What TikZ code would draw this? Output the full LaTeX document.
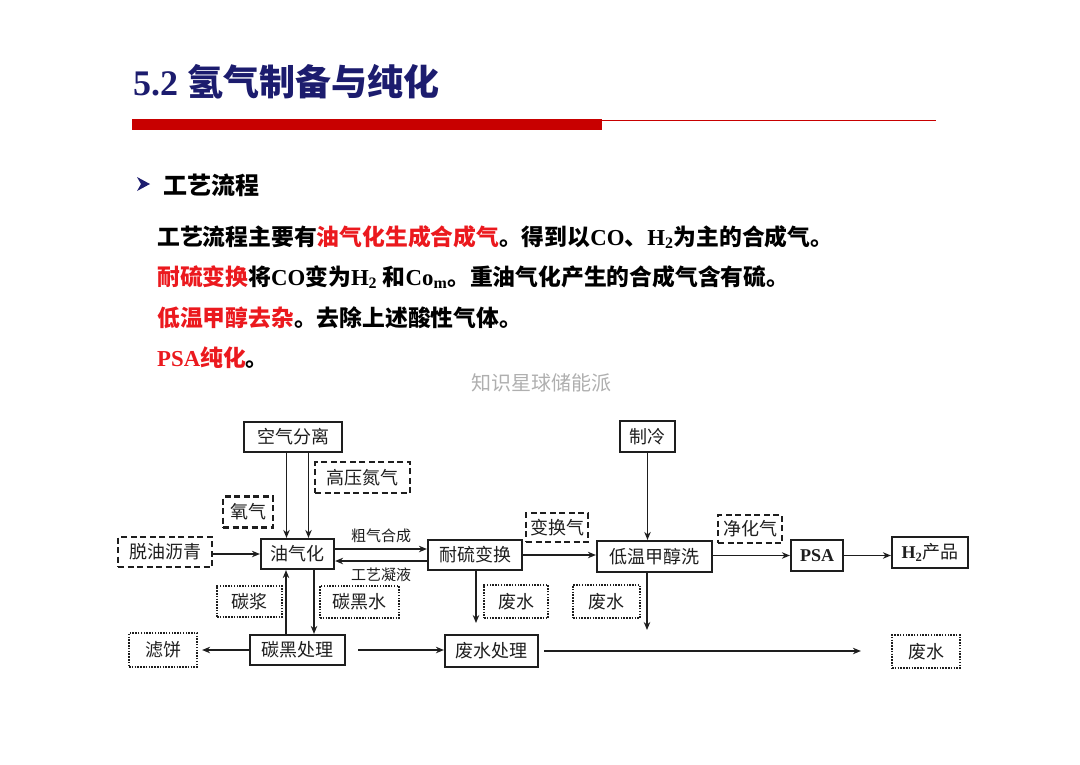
\documentclass[tikz,border=0pt]{standalone}
\usepackage{fontspec}
\setmainfont{Liberation Serif}
\newfontfamily\cjk{Noto Sans CJK SC}
\usetikzlibrary{arrows.meta,calc}
\definecolor{navy}{RGB}{28,28,110}
\definecolor{barred}{RGB}{200,0,0}
\definecolor{txtred}{RGB}{235,25,30}
\definecolor{ink}{RGB}{30,30,30}
\definecolor{wm}{RGB}{175,175,175}
\newcommand{\rd}[1]{\textcolor{txtred}{#1}}
\begin{document}
\begin{tikzpicture}[x=1pt,y=-1pt,
  box/.style={draw=ink, line width=2.2pt, inner sep=0pt, text=ink, font=\cjk\fontsize{18}{18}\selectfont},
  dashbox/.style={box, line width=2.2pt, dash pattern=on 6pt off 3.5pt},
  dotbox/.style={box, line width=2.2pt, dash pattern=on 1.5pt off 1.3pt},
  lab/.style={inner sep=0pt, text=ink, font=\cjk\fontsize{15}{15}\selectfont},
  arr/.style={draw=ink, line width=1.9pt, -{Stealth[length=8pt,width=6.5pt]}},
  body/.style={anchor=west, inner sep=0pt, font=\fontsize{22.8}{22.8}\selectfont\bfseries}
]
\useasboundingbox (0,0) rectangle (1080,764);

% title
\node[anchor=west, inner sep=0pt, text=navy, font=\fontsize{36}{36}\selectfont\bfseries] (title) at (133,82) {5.2 {\cjk 氢气制备与纯化}};
\fill[barred] (132,119) rectangle (602,130);
\draw[barred, line width=1pt] (602,120) -- (936,120);

% bullet
\fill[navy] (137,177) -- (150,184) -- (137,191) -- (141,184) -- cycle;
\node[anchor=west, inner sep=0pt, font=\cjk\fontsize{24}{24}\selectfont\bfseries] (head) at (163,185) {工艺流程};

% body text
\node[body] (l1) at (157,237) {{\cjk 工艺流程主要有\rd{油气化生成合成气}。得到以}CO{\cjk 、}H\textsubscript{2}{\cjk 为主的合成气。}};
\node[body] (l2) at (157,277) {{\cjk \rd{耐硫变换}将}CO{\cjk 变为}H\textsubscript{2} {\cjk 和}Co\textsubscript{m}{\cjk 。重油气化产生的合成气含有硫。}};
\node[body] (l3) at (157,318) {{\cjk \rd{低温甲醇去杂}。去除上述酸性气体。}};
\node[body] (l4) at (157,358) {\rd{PSA{\cjk 纯化}}{\cjk 。}};

% watermark
\node[inner sep=0pt, text=wm, font=\cjk\fontsize{20}{20}\selectfont] (wmk) at (541,383) {知识星球储能派};

% diagram boxes
\node[box, minimum width=98pt, minimum height=30pt] (kq) at (293,437) {空气分离};
\node[box, minimum width=55pt, minimum height=31pt] (zl) at (647.5,436.5) {制冷};
\node[dashbox, minimum width=95pt, minimum height=31pt] (gy) at (362.5,477.5) {高压氮气};
\node[dashbox, minimum width=50pt, minimum height=31pt] (yqi) at (248,512) {氧气};
\node[dashbox, minimum width=94pt, minimum height=30pt] (ty) at (165,552) {脱油沥青};
\node[box, minimum width=73pt, minimum height=30pt] (yq) at (297.5,554) {油气化};
\node[box, minimum width=94pt, minimum height=30pt] (nl) at (475,555) {耐硫变换};
\node[dashbox, minimum width=62pt, minimum height=29pt] (bh) at (557,527.5) {变换气};
\node[box, minimum width=115pt, minimum height=31pt] (dw) at (654.5,556.5) {低温甲醇洗};
\node[dashbox, minimum width=64pt, minimum height=28pt] (jh) at (750,529) {净化气};
\node[box, minimum width=52pt, minimum height=31pt, font=\fontsize{18}{18}\selectfont\bfseries] (psa) at (817,555.5) {PSA};
\node[box, minimum width=76pt, minimum height=31pt] (h2) at (930,552.5) {{\rmfamily\bfseries H\textsubscript{2}}产品};
\node[dotbox, minimum width=65pt, minimum height=31pt] (tj) at (249.5,601.5) {碳浆};
\node[dotbox, minimum width=79pt, minimum height=32pt] (thw) at (359.5,602) {碳黑水};
\node[dotbox, minimum width=64pt, minimum height=33pt] (fsa) at (516,601.5) {废水};
\node[dotbox, minimum width=67pt, minimum height=33pt] (fsb) at (606.5,601.5) {废水};
\node[dotbox, minimum width=68pt, minimum height=34pt] (lb) at (163,650) {滤饼};
\node[box, minimum width=95pt, minimum height=30pt] (thb) at (297.5,650) {碳黑处理};
\node[box, minimum width=93pt, minimum height=32pt] (fsc) at (491.5,651) {废水处理};
\node[dotbox, minimum width=68pt, minimum height=33pt] (fsd) at (926,651.5) {废水};

% labels
\node[lab] (cq) at (381,536) {粗气合成};
\node[lab] (gyn) at (381,575) {工艺凝液};

% free ends
\coordinate (e1) at (476,623);
\coordinate (e2) at (647,630);

% connectors
\draw[arr] ([xshift=-11pt]yq.north |- kq.south) -- ([xshift=-11pt]yq.north);
\draw[arr] ([xshift=11pt]yq.north |- kq.south) -- ([xshift=11pt]yq.north);
\draw[arr] (ty.east |- yq.west) -- (yq.west);
\draw[arr] ([yshift=5pt]yq.east) -- ([yshift=5pt]yq.east -| nl.west);
\draw[arr] ([yshift=-6pt]nl.west) -- ([yshift=-6pt]nl.west -| yq.east);
\draw[arr] (nl.east) -- (nl.east -| dw.west);
\draw[arr] (zl.south) -- (zl.south |- dw.north);
\draw[arr] (dw.east |- psa.west) -- (psa.west);
\draw[arr] (psa.east) -- (psa.east -| h2.west);
\draw[arr] ([xshift=-11.5pt]thb.north) -- ([xshift=-11.5pt]thb.north |- yq.south);
\draw[arr] ([xshift=16.5pt]yq.south |- yq.south) -- ([xshift=16.5pt]thb.north);
\draw[arr] (e1 |- nl.south) -- (e1);
\draw[arr] (e2 |- dw.south) -- (e2);
\draw[arr, shorten >=4pt] (thb.west) -- (lb.east);
\draw[arr, shorten <=12pt] (thb.east) -- (thb.east -| fsc.west);
\draw[arr, shorten <=5pt, shorten >=30pt] (fsc.east) -- (fsc.east -| fsd.west);
\end{tikzpicture}
\end{document}
